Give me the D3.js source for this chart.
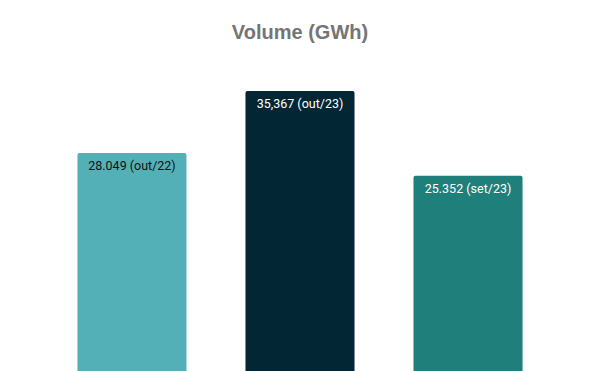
<!DOCTYPE html>
<html><head><meta charset="utf-8">
<script src="https://cdn.jsdelivr.net/npm/d3@7"></script>
<style>body{margin:0;background:#fff}svg{display:block}</style>
</head><body>
<svg id="c" width="600" height="371"></svg>
<script>
const categories = ["out/22", "out/23", "set/23"];
const values = [28.049, 35.367, 25.352];
const labels = ["28.049 (out/22)", "35,367 (out/23)", "25.352 (set/23)"];
const colors = ["#54b0b7", "#022634", "#1f7f7a"];
const textColors = ["#111111", "#ffffff", "#ffffff"];

const svg = d3.select("#c");
const x = d3.scaleBand().domain(categories).range([0, 600]).paddingInner(0.351).paddingOuter(0.461);
const y = d3.scaleLinear().domain([0, 40]).range([390.6, 51.8]);

svg.append("text").attr("x", 300).attr("y", 39).attr("text-anchor", "middle")
  .attr("font-family", "Liberation Sans, Arial, sans-serif").attr("font-weight", "bold")
  .attr("font-size", 20).attr("fill", "#757575").text("Volume (GWh)");

const r = 2;
svg.selectAll("path.bar").data(values).join("path").attr("class", "bar")
  .attr("fill", (d, i) => colors[i])
  .attr("d", (d, i) => {
    const x0 = x(categories[i]), w = x.bandwidth(), t = y(d), b = y(0);
    return `M${x0},${b}V${t + r}Q${x0},${t} ${x0 + r},${t}H${x0 + w - r}Q${x0 + w},${t} ${x0 + w},${t + r}V${b}Z`;
  });

svg.selectAll("text.lbl").data(values).join("text").attr("class", "lbl")
  .attr("x", (d, i) => x(categories[i]) + x.bandwidth() / 2)
  .attr("y", d => y(d) + 17)
  .attr("text-anchor", "middle").attr("font-family", "Roboto, sans-serif")
  .attr("font-size", 12.5).attr("fill", (d, i) => textColors[i])
  .text((d, i) => labels[i]);
</script>
</body></html>
